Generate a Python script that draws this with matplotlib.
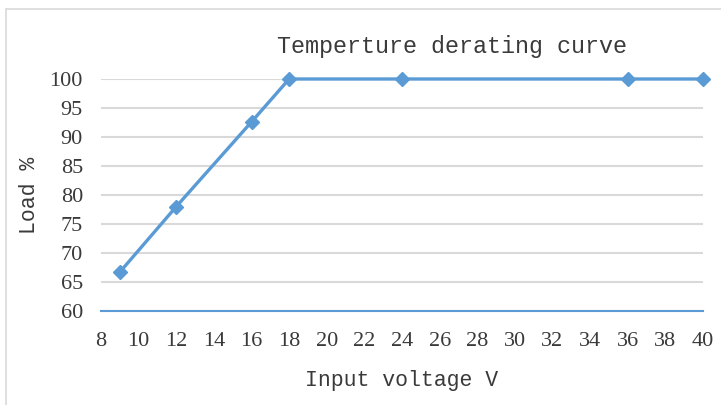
import matplotlib.pyplot as plt
from matplotlib.patches import Rectangle

# Data
voltage = [9, 12, 16, 18, 24, 36, 40]
load = [66.7, 78, 92.6, 100, 100, 100, 100]

x_ticks = list(range(8, 41, 2))
y_ticks = list(range(60, 101, 5))

blue = '#5B9BD5'
grid_gray = '#D9D9D9'
text_col = '#3A3A3A'

fig = plt.figure(figsize=(7.21, 4.05), dpi=100)

# chart-area border (runs off the right and bottom edges)
fig.patches.append(Rectangle((6 / 721, -0.1), 1.2, 1 - 9 / 405 + 0.1,
                             transform=fig.transFigure, fill=False,
                             edgecolor=grid_gray, linewidth=1.2))

ax = fig.add_axes([101 / 721, 94 / 405, 602 / 721, 232 / 405])
ax.set_xlim(8, 40)
ax.set_ylim(60, 100)
ax.set_xticks(x_ticks)
ax.set_yticks(y_ticks)

for s in ['top', 'right', 'left']:
    ax.spines[s].set_visible(False)
ax.spines['bottom'].set_color(blue)
ax.spines['bottom'].set_linewidth(1.5)

ax.yaxis.grid(True, color=grid_gray, linewidth=1.5)
ax.set_axisbelow(True)
ax.tick_params(length=0)
ax.tick_params(axis='y', pad=13)
ax.tick_params(axis='x', pad=15)
for lab in ax.get_xticklabels() + ax.get_yticklabels():
    lab.set_fontfamily('Liberation Serif')
    lab.set_fontsize(16)
    lab.set_color(text_col)

ax.plot(voltage, load, color=blue, linewidth=2.4, marker='D', markersize=7,
        clip_on=False, zorder=3)

ax.set_xlabel('Input voltage V', fontfamily='Liberation Mono', fontsize=15.5,
              color=text_col, labelpad=14)
ax.set_ylabel('Load %', fontfamily='Liberation Mono', fontsize=15.5,
              color=text_col, labelpad=7)

fig.text(452 / 721, 1 - 46 / 405, 'Temperture derating curve',
         fontfamily='Liberation Mono', fontsize=16.8, color=text_col,
         ha='center', va='center')

fig.savefig('out.png', dpi=100)
